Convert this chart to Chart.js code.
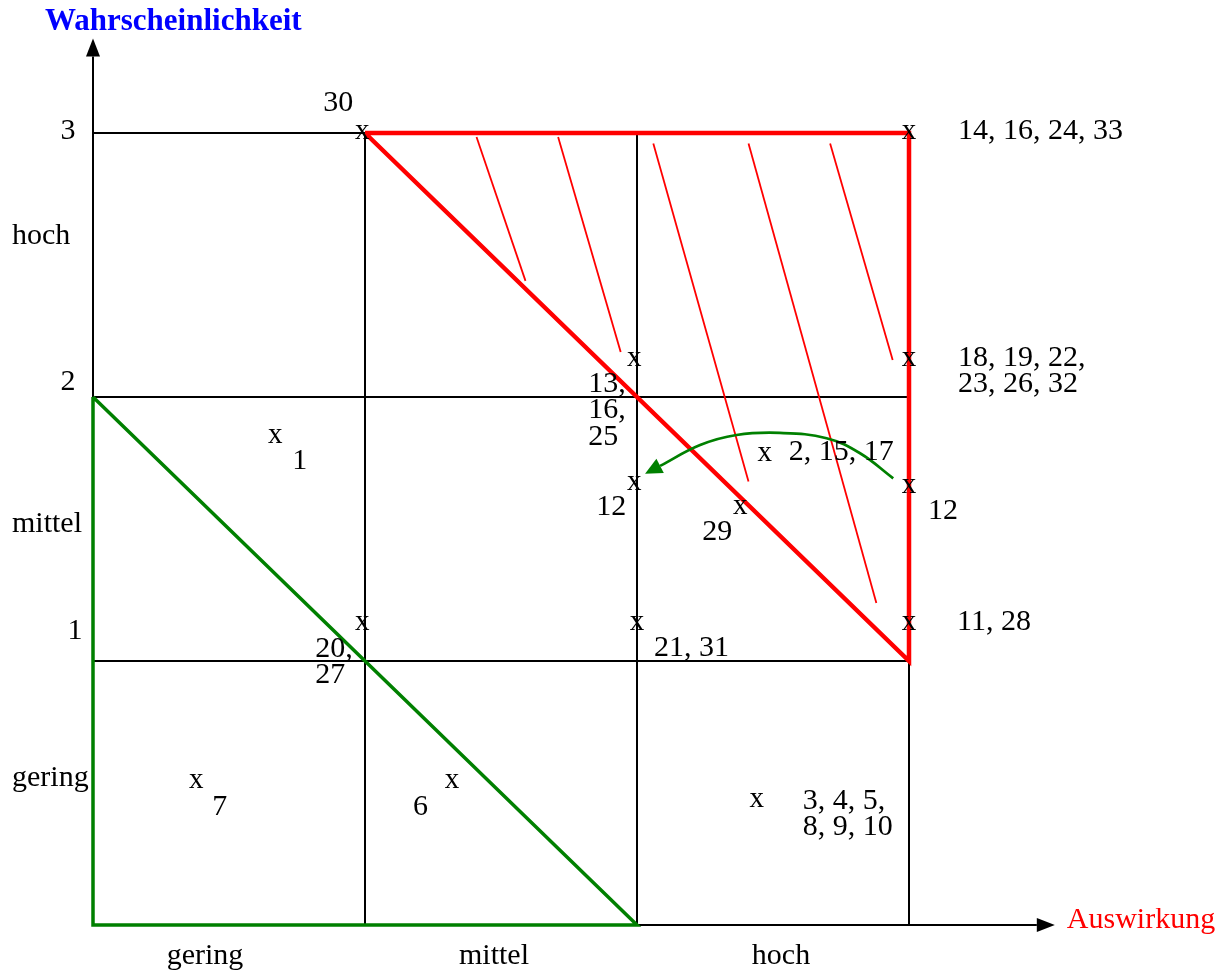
<!DOCTYPE html>
<html>
<head>
<meta charset="utf-8">
<script src="https://cdn.jsdelivr.net/npm/chart.js@4.4.1/dist/chart.umd.min.js"></script>
<style>
  html, body { margin: 0; padding: 0; background: #fff; }
  canvas { display: block; }
</style>
</head>
<body>
<canvas id="risk-chart" width="1232" height="977"></canvas>
<script>
// axes: Auswirkung (x) and Wahrscheinlichkeit (y), three levels each
const levels = [0, 1, 2, 3];
const tickNumbers = ["1", "2", "3"];
const levelNames = ["gering", "mittel", "hoch"];

// red zone (triangle) and green zone (triangle)
const redZoneX = [1, 3, 3, 1];
const redZoneY = [3, 3, 1, 3];
const greenZoneX = [0, 0, 2, 0];
const greenZoneY = [2, 0, 0, 2];

// red hatch strokes inside the red zone
const hatchX0 = [1.41, 1.71, 2.06, 2.41, 2.71];
const hatchY0 = [2.985, 2.985, 2.96, 2.96, 2.96];
const hatchX1 = [1.59, 1.94, 2.41, 2.88, 2.94];
const hatchY1 = [2.44, 2.17, 1.68, 1.22, 2.14];

// green arrow (risk moved from x=3 to x=2)
const shiftX = [2.942, 2.820, 2.697, 2.525, 2.366, 2.232, 2.085];
const shiftY = [1.692, 1.787, 1.844, 1.864, 1.856, 1.818, 1.739];

// marked risks
const riskX = [0.99, 3, 1.99, 3, 0.67, 2.47, 1.99, 2.38, 3, 0.99, 2.0, 3, 0.38, 1.32, 2.44];
const riskY = [3, 3, 2.14, 2.14, 1.85, 1.78, 1.67, 1.58, 1.66, 1.14, 1.14, 1.14, 0.54, 0.54, 0.47];
const riskNumbers = [
  "30", "14, 16, 24, 33", "13,\n16,\n25", "18, 19, 22,\n23, 26, 32", "1",
  "2, 15, 17", "12", "29", "12", "20,\n27", "21, 31", "11, 28", "7", "6",
  "3, 4, 5,\n8, 9, 10"
];

// where each number sits next to its x (pixels: dx to left edge, dy to middle)
const numberOffsets = [
  [-39, -30], [49, -2], [-46, 24], [49, -2], [17, 25],
  [24, -3], [-38, 23], [-38, 24], [19, 24], [-47, 25], [17, 24], [48, -2], [16, 25], [-39, 25],
  [46, 0]
];

const xAxisEnd = 3.47;
const yAxisEnd = 3.29;

const FONT = "'Liberation Serif', 'DejaVu Serif', serif";
const BLACK = "#000000";
const RED = "#ff0000";
const GREEN = "#008000";

function pts(xs, ys) {
  return xs.map((x, i) => ({ x: x, y: ys[i] }));
}

function lineSet(data, color, width, extra) {
  return Object.assign({
    type: "line",
    data: data,
    borderColor: color,
    backgroundColor: color,
    borderWidth: width,
    pointRadius: 0,
    fill: false,
    tension: 0,
    clip: false,
  }, extra || {});
}

const datasets = [];

// markers first so nothing is drawn over them
datasets.push({
  type: "scatter",
  data: pts(riskX, riskY),
  pointRadius: 0,
  showLine: false,
});

datasets.push(lineSet(pts(shiftX, shiftY), GREEN, 2.7, { tension: 0.4 }));

for (let i = 0; i < hatchX0.length; i++) {
  datasets.push(lineSet(pts([hatchX0[i], hatchX1[i]], [hatchY0[i], hatchY1[i]]), RED, 1.8));
}

datasets.push(lineSet(pts(redZoneX, redZoneY), RED, 4.5, { borderJoinStyle: "miter" }));
datasets.push(lineSet(pts(greenZoneX, greenZoneY), GREEN, 3.5, { borderJoinStyle: "miter" }));

// grid lines
levels.slice(1).forEach((v) => {
  datasets.push(lineSet(pts([0, 3], [v, v]), BLACK, 2));
  datasets.push(lineSet(pts([v, v], [0, 3]), BLACK, 2));
});
// axes
datasets.push(lineSet(pts([0, xAxisEnd], [0, 0]), BLACK, 2));
datasets.push(lineSet(pts([0, 0], [0, yAxisEnd]), BLACK, 2));

function arrowHead(ctx, bx, by, ang, len, hw, color) {
  const tx = bx + Math.cos(ang) * len;
  const ty = by + Math.sin(ang) * len;
  const nx = -Math.sin(ang) * hw;
  const ny = Math.cos(ang) * hw;
  ctx.beginPath();
  ctx.moveTo(tx, ty);
  ctx.lineTo(bx + nx, by + ny);
  ctx.lineTo(bx - nx, by - ny);
  ctx.closePath();
  ctx.fillStyle = color;
  ctx.fill();
}

function multiText(ctx, text, x, y, lh) {
  text.split("\n").forEach((line, i) => ctx.fillText(line, x, y + i * lh));
}

const annotate = {
  id: "annotate",
  afterDatasetsDraw(chart) {
    const ctx = chart.ctx;
    const sx = chart.scales.x;
    const sy = chart.scales.y;
    const px = (v) => sx.getPixelForValue(v);
    const py = (v) => sy.getPixelForValue(v);
    ctx.save();

    // axis arrows
    arrowHead(ctx, px(xAxisEnd), py(0), 0, 18, 7, BLACK);
    arrowHead(ctx, px(0), py(yAxisEnd), -Math.PI / 2, 18, 7, BLACK);

    // green arrow head
    const n = shiftX.length;
    const ang = Math.atan2(py(shiftY[n - 1]) - py(shiftY[n - 2]), px(shiftX[n - 1]) - px(shiftX[n - 2]));
    arrowHead(ctx, px(shiftX[n - 1]), py(shiftY[n - 1]), ang, 17, 8, GREEN);

    // axis titles
    ctx.textBaseline = "middle";
    ctx.textAlign = "left";
    ctx.font = "bold 31px " + FONT;
    ctx.fillStyle = "#0000ff";
    ctx.fillText("Wahrscheinlichkeit", px(0) - 48, py(yAxisEnd) - 34);
    ctx.font = "30px " + FONT;
    ctx.fillStyle = RED;
    ctx.fillText("Auswirkung", px(xAxisEnd) + 30, py(0) - 5);

    ctx.fillStyle = BLACK;
    // tick numbers on the y axis
    const tickOff = [[-18, -30], [-25, -15], [-25, -2]];
    tickNumbers.forEach((t, i) => {
      ctx.textAlign = "center";
      ctx.fillText(t, px(0) + tickOff[i][0], py(i + 1) + tickOff[i][1]);
    });
    // level names
    const yNameDY = [-15, -5, -29];
    const xNameDX = [-24, -7, 8];
    levelNames.forEach((name, i) => {
      ctx.textAlign = "left";
      ctx.fillText(name, 12, py(i + 0.5) + yNameDY[i]);
      ctx.textAlign = "center";
      ctx.fillText(name, px(i + 0.5) + xNameDX[i], py(0) + 31);
    });

    // markers and their numbers
    const meta = chart.getDatasetMeta(0);
    meta.data.forEach((el, i) => {
      ctx.font = "29px " + FONT;
      ctx.textAlign = "center";
      ctx.textBaseline = "alphabetic";
      ctx.fillText("x", el.x, el.y + 6);
      ctx.font = "30px " + FONT;
      ctx.textAlign = "left";
      ctx.textBaseline = "middle";
      multiText(ctx, riskNumbers[i], el.x + numberOffsets[i][0], el.y + numberOffsets[i][1], 26.5);
    });

    ctx.restore();
  },
};

new Chart(document.getElementById("risk-chart").getContext("2d"), {
  type: "line",
  data: { datasets: datasets },
  options: {
    responsive: false,
    animation: false,
    devicePixelRatio: 1,
    layout: { padding: 0 },
    plugins: { legend: { display: false }, tooltip: { enabled: false } },
    scales: {
      x: { type: "linear", display: false, min: -93 / 272, max: (1232 - 93) / 272 },
      y: { type: "linear", display: false, min: -52 / 264, max: 3 + 133 / 264 },
    },
  },
  plugins: [annotate],
});
</script>
</body>
</html>
